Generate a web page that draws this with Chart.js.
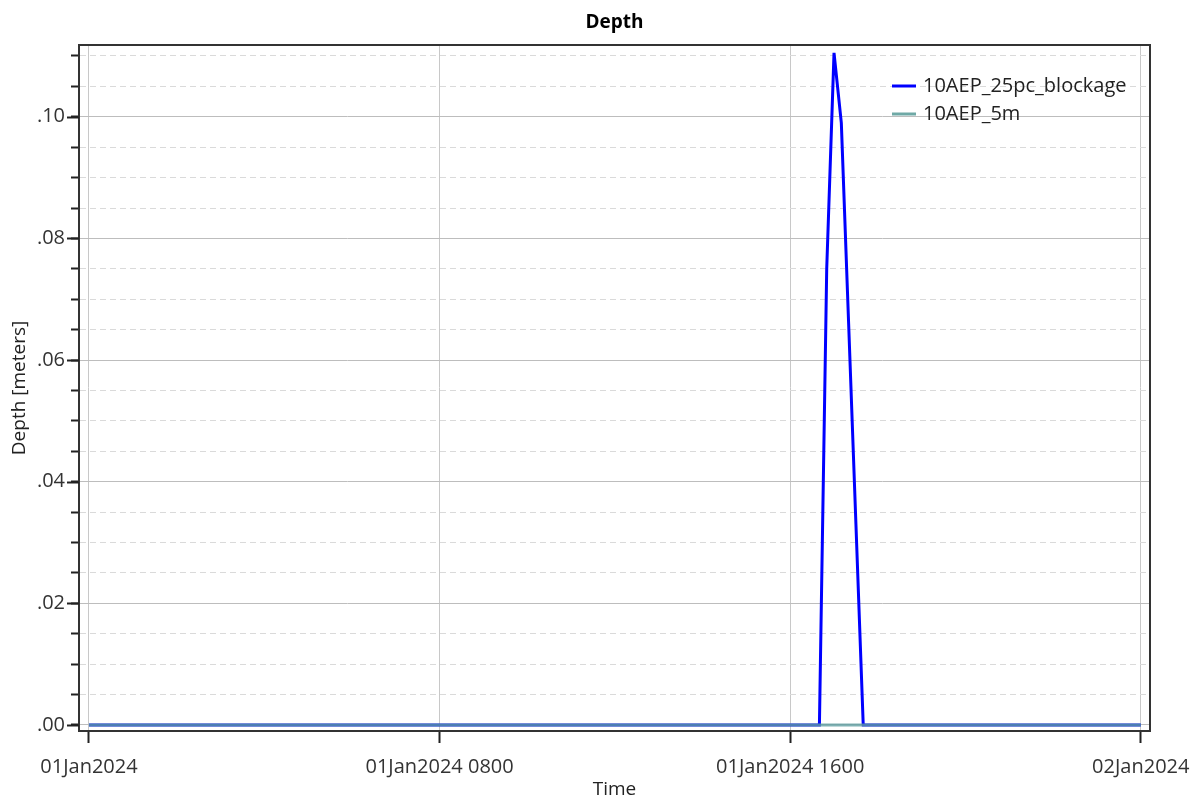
<!DOCTYPE html>
<html>
<head>
<meta charset="utf-8">
<script src="https://cdn.jsdelivr.net/npm/chart.js@4"></script>
<style>
  html, body { margin: 0; padding: 0; background: #fff; }
  #wrap { width: 1199px; height: 801px; }
</style>
</head>
<body>
<div id="wrap"><canvas id="myChart" width="1199" height="801"></canvas></div>
<script>
// time of each sample (01Jan2024, hh:mm; 24:00 = 02Jan2024 0000)
const sampleTimes = ['00:00', '16:40', '16:50', '17:00', '17:10', '17:20', '17:30', '17:40', '24:00'];
const blockageDepth = [0, 0, 0.075, 0.1105, 0.099, 0.066, 0.033, 0, 0];
const fiveMDepth = [0, 0, 0, 0, 0, 0, 0, 0, 0];
const seriesNames = ['10AEP_25pc_blockage', '10AEP_5m'];
const seriesColors = ['#0000ff', '#6fa9a6'];

const xTickHours = [0, 8, 16, 24];
const xTickLabels = ['01Jan2024', '01Jan2024 0800', '01Jan2024 1600', '02Jan2024'];
const yMajorTicks = [0, 0.02, 0.04, 0.06, 0.08, 0.10];

const FONT = '"Open Sans", "Noto Sans", sans-serif';

function toHours(t) {
  let p = t.split(':');
  return Number(p[0]) + Number(p[1]) / 60;
}

function isMajor(v) {
  return yMajorTicks.some(m => Math.abs(m - v) < 1e-6);
}

// minor ticks every .005 between the major ones
let yTicks = [];
for (let i = 0; i <= 22; i++) yTicks.push(Math.round(i * 5) / 1000);

const framePlugin = {
  id: 'frame',
  afterDraw(chart) {
    const ctx = chart.ctx;
    const a = chart.chartArea;
    ctx.save();
    // top + right edge of the plot box
    ctx.strokeStyle = '#333';
    ctx.lineWidth = 2;
    ctx.beginPath();
    ctx.moveTo(a.left, a.top);
    ctx.lineTo(a.right, a.top);
    ctx.lineTo(a.right, a.bottom);
    ctx.stroke();

    // longer ticks on the major y values
    const ys = chart.scales.y;
    ctx.strokeStyle = '#222';
    ctx.lineWidth = 2;
    yMajorTicks.forEach(v => {
      let py = Math.round(ys.getPixelForValue(v)) + 0.5;
      ctx.beginPath();
      ctx.moveTo(a.left - 12, py);
      ctx.lineTo(a.left, py);
      ctx.stroke();
    });

    // title
    ctx.fillStyle = '#000';
    ctx.font = 'bold 19px ' + FONT;
    ctx.textAlign = 'center';
    ctx.textBaseline = 'middle';
    ctx.fillText('Depth', (a.left + a.right) / 2, 23);

    // legend inside the plot
    ctx.font = '20px ' + FONT;
    ctx.textAlign = 'left';
    seriesNames.forEach((name, i) => {
      let y = a.top + 41 + i * 28;
      let x = a.right - 258;
      ctx.strokeStyle = seriesColors[i];
      ctx.lineWidth = 3;
      ctx.beginPath();
      ctx.moveTo(x, y);
      ctx.lineTo(x + 24, y);
      ctx.stroke();
      ctx.fillStyle = '#222';
      ctx.fillText(name, x + 31, y);
    });
    ctx.restore();
  }
};

// dataset 0 is painted last (on top) by Chart.js
const data = {
  datasets: [
    {
      label: seriesNames[1],
      data: sampleTimes.map((t, i) => ({ x: toHours(t), y: fiveMDepth[i] })),
      borderColor: 'rgba(95,158,160,0.8)',
      borderWidth: 3,
      pointRadius: 0,
      tension: 0
    },
    {
      label: seriesNames[0],
      data: sampleTimes.map((t, i) => ({ x: toHours(t), y: blockageDepth[i] })),
      borderColor: seriesColors[0],
      borderWidth: 3,
      pointRadius: 0,
      tension: 0
    }
  ]
};

const config = {
  type: 'line',
  data: data,
  plugins: [framePlugin],
  options: {
    responsive: false,
    animation: false,
    layout: { padding: { top: 45, left: 0, right: 49, bottom: 0 } },
    plugins: {
      legend: { display: false },
      title: { display: false },
      tooltip: { enabled: false }
    },
    scales: {
      x: {
        type: 'linear',
        min: -0.228,
        max: 24.21,
        afterBuildTicks: s => { s.ticks = xTickHours.map(v => ({ value: v })); },
        afterFit: s => { s.height = 70; s.paddingLeft = 0; s.paddingRight = 0; },
        ticks: {
          autoSkip: false,
          maxRotation: 0,
          padding: 12,
          color: '#333',
          font: { family: FONT, size: 20 },
          callback: v => xTickLabels[xTickHours.indexOf(v)]
        },
        grid: { color: '#c8c8c8', lineWidth: 1, tickLength: 12, tickColor: '#222', tickWidth: 2 },
        border: { color: '#333', width: 2 },
        title: {
          display: true, text: 'Time', color: '#222',
          font: { family: FONT, size: 19 }, padding: { top: 0, bottom: 0 }
        }
      },
      y: {
        min: -0.00099,
        max: 0.1118,
        afterBuildTicks: s => { s.ticks = yTicks.map(v => ({ value: v })); },
        afterFit: s => { s.width = 79; s.paddingTop = 0; s.paddingBottom = 0; },
        ticks: {
          autoSkip: false,
          padding: 6,
          color: '#333',
          font: { family: FONT, size: 20 },
          callback: v => isMajor(v) ? v.toFixed(2).replace(/^0/, '') : ''
        },
        grid: {
          color: c => (c.tick && isMajor(c.tick.value)) ? '#bdbdbd' : '#dadada',
          lineWidth: 1,
          tickLength: 8,
          tickColor: '#222',
          tickWidth: 2
        },
        border: {
          color: '#333', width: 2,
          dash: c => (c.tick && !isMajor(c.tick.value)) ? [6, 4] : []
        },
        title: {
          display: true, text: 'Depth [meters]', color: '#222',
          font: { family: FONT, size: 19 }, padding: { top: 8, bottom: 0 }
        }
      }
    }
  }
};

var myChart = new Chart(document.getElementById('myChart'), config);
</script>
</body>
</html>
